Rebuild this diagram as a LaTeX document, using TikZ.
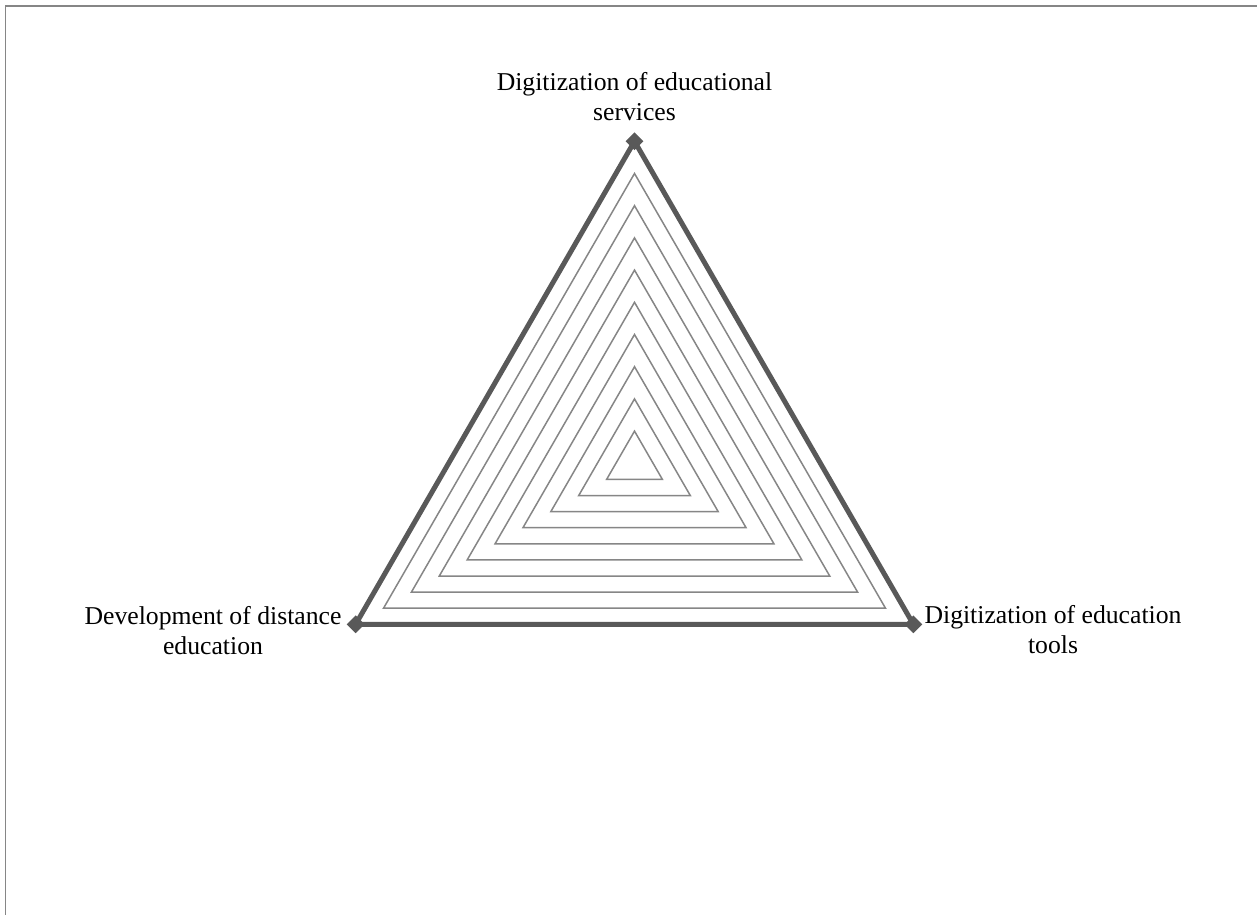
\documentclass[tikz,border=0pt]{standalone}
\usepackage{fontspec}
\setmainfont{Liberation Serif}
\usetikzlibrary{shapes.geometric,calc}
\definecolor{seriesgray}{RGB}{89,89,89}
\definecolor{gridgray}{RGB}{134,134,134}
\definecolor{framegray}{RGB}{134,134,134}
\tikzset{
  gridline/.style={draw=gridgray, line width=1.5pt, line join=miter},
  seriesline/.style={draw=seriesgray, line width=5pt, line join=miter},
  markerbox/.style={diamond, fill=seriesgray, inner sep=0pt, minimum width=18pt, minimum height=18pt},
  axislabel/.style={align=center, inner sep=0pt, font=\fontsize{25.7}{30}\selectfont},
  framebox/.style={draw=framegray, line width=1.6pt}
}
\begin{document}
\begin{tikzpicture}[x=1pt,y=-1pt]
\useasboundingbox (0,0) rectangle (1257,915);
\fill[white] (0,0) rectangle (1257,915);
% frame (top and left edges)
\coordinate (ftl) at (5.5,6);
\coordinate (ftr) at (1257,6);
\coordinate (fbl) at (5.5,915);
\draw[framebox] (ftr) -- (ftl) -- (fbl);
% centre and grid
\def\cx{634.5}
\def\cy{463.3}
\def\st{32.2}
\foreach \k in {1,...,9}{
  \pgfmathsetmacro{\r}{\k*\st}
  \draw[gridline] (\cx,\cy-\r) -- (\cx-0.8660254*\r,\cy+0.5*\r) -- (\cx+0.8660254*\r,\cy+0.5*\r) -- cycle;
}
% series vertices
\coordinate (top) at (\cx,\cy-10*\st);
\coordinate (left) at (\cx-8.660254*\st,\cy+5*\st);
\coordinate (right) at (\cx+8.660254*\st,\cy+5*\st);
\draw[seriesline] (top) -- (right) -- (left) -- cycle;
\node[markerbox] (mtop) at (top) {};
\node[markerbox] (mleft) at (left) {};
\node[markerbox] (mright) at (right) {};
% labels
\node[axislabel] (ltop) at (634.5,97) {Digitization of educational\\services};
\node[axislabel] (lleft) at (213,631) {Development of distance\\education};
\node[axislabel] (lright) at (1053,630) {Digitization of education\\tools};
\end{tikzpicture}
\end{document}
